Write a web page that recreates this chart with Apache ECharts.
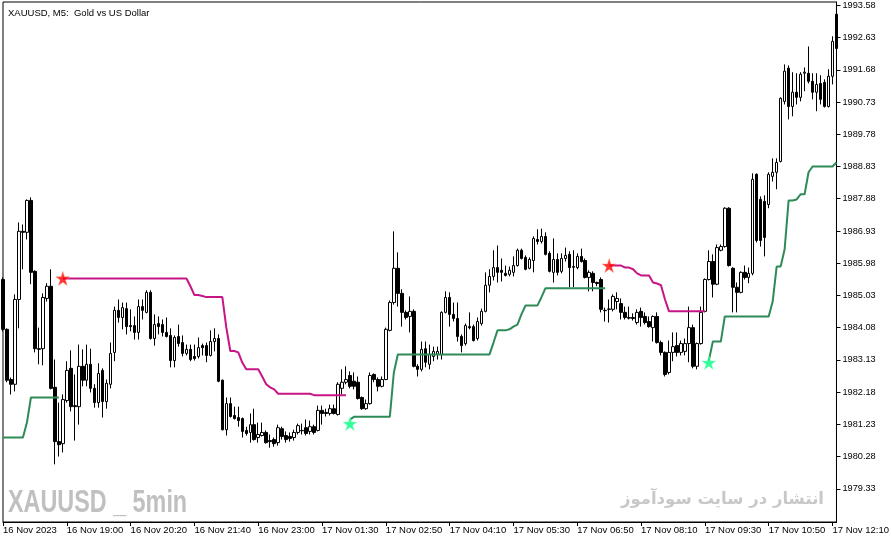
<!DOCTYPE html>
<html><head><meta charset="utf-8">
<script src="https://cdn.jsdelivr.net/npm/echarts@6/dist/echarts.min.js"></script>
<style>html,body{margin:0;padding:0;background:#fff}#c{width:892px;height:543px}</style>
</head><body><div id="c"></div>
<script>
// ---- data ----
const opens = [1985.50,1984.03,1982.55,1982.41,1984.91,1986.92,1986.89,1987.83,1985.74,1983.46,
1983.46,1984.94,1985.30,1982.32,1980.72,1980.66,1981.93,1982.88,1981.78,1981.75,
1982.94,1982.53,1983.00,1982.29,1981.87,1982.82,1981.90,1982.41,1983.35,1984.59,
1984.38,1984.64,1984.14,1984.14,1983.94,1984.70,1984.53,1985.12,1983.76,1984.20,
1984.17,1983.94,1983.85,1983.11,1983.82,1983.64,1983.32,1983.44,1983.23,1983.23,
1983.55,1983.55,1983.26,1983.67,1983.76,1982.53,1981.07,1981.84,1981.49,1981.43,
1981.40,1981.05,1980.99,1981.22,1980.84,1980.90,1980.99,1980.75,1980.78,1980.69,
1981.10,1980.90,1980.87,1980.84,1980.99,1981.05,1981.13,1981.02,1981.16,1981.05,
1981.64,1981.58,1981.55,1981.69,1981.52,1982.29,1982.47,1982.67,1982.50,1982.47,
1982.02,1981.69,1981.84,1982.70,1982.55,1982.35,1982.55,1984.00,1984.82,1985.83,
1985.09,1984.53,1984.41,1984.56,1982.94,1982.85,1983.46,1983.00,1983.23,1983.29,
1983.29,1984.53,1984.97,1984.47,1984.35,1983.82,1983.61,1984.11,1984.11,1983.76,
1984.20,1984.56,1985.33,1985.59,1985.85,1985.77,1985.68,1985.65,1985.71,1985.91,
1986.36,1986.15,1985.83,1986.06,1986.68,1986.62,1986.77,1986.27,1985.71,1986.09,
1985.74,1986.12,1986.24,1985.88,1985.85,1986.18,1986.06,1985.56,1985.68,1985.41,
1985.50,1984.59,1984.62,1984.62,1984.85,1984.79,1984.53,1984.38,1984.38,1984.23,
1984.56,1984.41,1984.26,1984.08,1984.41,1983.64,1983.35,1982.76,1983.35,1983.55,
1983.35,1983.38,1983.61,1984.08,1982.94,1983.61,1984.56,1985.50,1986.03,1985.36,
1986.36,1986.47,1987.60,1985.83,1985.27,1985.12,1985.71,1985.56,1985.68,1988.60,
1987.86,1987.80,1987.71,1988.54,1988.66,1988.98,1990.75,1991.73,1990.60,1991.02,
1990.87,1991.58,1991.58,1991.34,1991.02,1991.28,1991.31,1990.60,1991.49,1993.32];
const closes = [1984.03,1982.53,1982.41,1984.91,1986.92,1986.89,1987.83,1985.71,1983.46,1983.44,
1984.97,1985.30,1982.29,1980.72,1980.63,1981.96,1982.82,1981.75,1981.75,1982.94,
1982.53,1983.00,1982.29,1981.87,1982.73,1981.90,1982.44,1983.32,1984.59,1984.38,
1984.67,1984.11,1984.11,1983.94,1984.70,1984.59,1985.12,1983.76,1984.17,1984.11,
1983.94,1983.82,1983.11,1983.79,1983.61,1983.32,1983.44,1983.14,1983.17,1983.49,
1983.49,1983.26,1983.67,1983.76,1982.50,1981.07,1981.84,1981.46,1981.40,1981.34,
1981.02,1980.96,1981.22,1980.78,1980.93,1980.99,1980.69,1980.72,1980.66,1981.13,
1980.87,1980.78,1980.81,1980.99,1981.19,1981.04,1980.96,1981.16,1980.99,1981.64,
1981.55,1981.55,1981.69,1981.55,1982.41,1982.47,1982.55,1982.35,1982.35,1981.99,
1981.69,1981.84,1982.67,1982.55,1982.35,1982.55,1984.03,1984.82,1985.83,1985.09,
1984.53,1984.38,1984.56,1982.94,1982.85,1983.44,1983.06,1983.29,1983.38,1983.38,
1984.53,1984.97,1984.47,1984.35,1983.82,1983.55,1984.14,1984.08,1983.70,1984.26,
1984.56,1985.33,1985.59,1985.85,1985.71,1985.71,1985.62,1985.77,1985.91,1986.36,
1986.12,1985.80,1986.09,1986.71,1986.62,1986.77,1986.24,1985.74,1986.09,1985.71,
1986.12,1986.21,1985.85,1985.86,1986.18,1986.03,1985.56,1985.71,1985.41,1985.38,
1984.62,1984.58,1984.63,1985.00,1984.94,1984.53,1984.38,1984.36,1984.35,1984.53,
1984.38,1984.23,1984.11,1984.41,1983.64,1983.35,1982.70,1983.35,1983.52,1983.35,
1983.61,1983.61,1984.08,1982.94,1983.61,1984.53,1985.50,1986.03,1985.36,1986.44,
1986.47,1987.60,1985.91,1985.27,1985.12,1985.71,1985.56,1985.68,1988.45,1986.65,
1986.65,1986.74,1988.60,1988.66,1988.95,1990.84,1991.64,1990.60,1991.02,1990.87,
1991.55,1991.61,1991.34,1991.02,1991.25,1990.81,1990.60,1991.49,1992.52,1992.31];
const lows = [1983.97,1982.47,1982.11,1982.20,1984.06,1985.80,1986.68,1985.36,1983.35,1983.00,
1982.97,1984.85,1982.26,1980.05,1980.28,1980.40,1981.87,1981.61,1980.75,1981.22,
1982.35,1982.35,1982.17,1981.72,1981.72,1981.43,1981.69,1982.29,1983.09,1984.23,
1984.03,1983.88,1983.97,1983.73,1983.73,1984.32,1984.50,1983.73,1983.55,1983.88,
1983.82,1983.79,1982.91,1982.91,1983.52,1983.23,1983.26,1983.09,1983.11,1983.17,
1983.26,1983.06,1983.23,1983.38,1982.47,1981.05,1980.90,1981.43,1981.37,1981.16,
1980.84,1980.90,1980.69,1980.75,1980.69,1980.87,1980.66,1980.54,1980.57,1980.60,
1980.78,1980.69,1980.72,1980.75,1980.93,1980.93,1980.90,1980.93,1980.93,1981.02,
1981.22,1981.46,1981.49,1981.52,1981.49,1982.11,1982.41,1982.29,1982.26,1981.96,
1981.66,1981.66,1981.81,1982.47,1982.20,1982.32,1982.53,1983.97,1984.76,1984.70,
1984.11,1984.32,1983.94,1982.91,1982.64,1982.79,1982.91,1982.85,1983.09,1983.14,
1983.14,1984.50,1984.11,1984.26,1983.67,1983.35,1983.55,1984.03,1983.67,1983.70,
1984.14,1984.53,1985.12,1985.47,1985.41,1985.44,1985.59,1985.59,1985.59,1985.88,
1986.09,1985.77,1985.80,1985.71,1986.53,1986.56,1986.21,1985.71,1985.41,1985.62,
1985.68,1986.03,1985.27,1985.27,1985.80,1986.00,1985.53,1985.15,1985.15,1985.30,
1984.53,1984.26,1984.23,1984.56,1984.62,1984.32,1984.32,1984.32,1984.29,1984.17,
1984.11,1984.17,1984.08,1983.67,1983.61,1983.26,1982.64,1982.70,1983.09,1983.23,
1983.26,1983.26,1983.06,1982.88,1982.85,1983.58,1984.53,1985.47,1984.97,1985.33,
1986.33,1986.44,1985.88,1984.53,1984.53,1985.09,1985.50,1985.39,1985.62,1986.59,
1986.47,1986.18,1987.60,1988.39,1988.16,1988.95,1990.66,1990.22,1990.31,1990.66,
1990.75,1991.05,1991.28,1990.81,1990.46,1990.66,1990.57,1990.57,1991.25,1992.28];
const highs = [1985.56,1984.06,1982.61,1985.06,1987.18,1987.12,1987.86,1987.92,1985.77,1984.08,
1985.09,1985.39,1985.80,1983.14,1981.87,1982.11,1983.09,1983.41,1982.70,1983.58,
1983.44,1983.58,1983.46,1982.41,1983.03,1982.88,1982.55,1983.64,1984.70,1984.91,
1984.82,1984.82,1984.62,1984.41,1984.91,1984.91,1985.18,1985.18,1984.47,1984.41,
1984.32,1984.38,1984.06,1983.85,1984.17,1983.85,1983.58,1983.58,1983.58,1983.79,
1983.61,1983.64,1984.00,1984.06,1983.88,1982.55,1982.02,1982.02,1981.75,1981.75,
1981.43,1981.16,1981.55,1981.69,1981.28,1981.28,1981.05,1980.93,1980.84,1981.22,
1981.16,1981.02,1980.99,1981.07,1981.25,1981.25,1981.37,1981.34,1981.22,1981.78,
1981.78,1981.69,1981.81,1981.81,1982.47,1982.85,1982.94,1982.79,1982.76,1982.64,
1982.05,1981.96,1982.76,1982.73,1982.61,1982.64,1984.08,1984.88,1986.92,1986.30,
1985.21,1984.59,1985.00,1984.62,1983.00,1983.67,1983.67,1983.58,1983.52,1983.52,
1984.56,1985.15,1985.12,1984.82,1984.82,1983.88,1984.20,1984.53,1984.17,1984.38,
1984.64,1985.71,1985.80,1986.36,1986.50,1986.12,1985.91,1985.88,1986.18,1986.41,
1986.41,1986.21,1986.15,1986.77,1986.98,1987.00,1986.89,1986.33,1986.71,1986.27,
1986.27,1986.44,1986.33,1986.36,1986.27,1986.41,1986.12,1985.77,1985.74,1985.44,
1985.56,1984.67,1984.91,1985.06,1985.12,1984.94,1984.70,1984.70,1984.50,1984.62,
1984.67,1984.53,1984.41,1984.44,1984.53,1983.70,1983.38,1983.70,1983.94,1983.94,
1983.70,1983.76,1984.70,1984.17,1983.64,1984.70,1985.53,1986.36,1986.24,1986.53,
1986.53,1987.63,1987.63,1985.86,1985.41,1985.74,1985.91,1985.85,1988.63,1988.63,
1987.95,1987.98,1988.66,1989.07,1989.07,1990.87,1991.84,1991.81,1991.61,1991.58,
1991.61,1991.75,1992.37,1991.58,1991.58,1991.52,1991.40,1991.70,1992.67,1993.38];

// trailing line: green (below price) and magenta (above price) segments, with start bar index
const supportSeg1Start = 0;
const supportSeg1 = [1980.84,1980.84,1980.84,1980.84,1980.84,1980.84,1981.28,1982.02,1982.02,1982.02,1982.02,1982.02,1982.02,1982.02,1982.02];
const resistSeg1Start = 15;
const resistSeg1 = [1985.53,1985.53,1985.53,1985.53,1985.53,1985.53,1985.53,1985.53,1985.53,1985.53,
1985.53,1985.53,1985.53,1985.53,1985.53,1985.53,1985.53,1985.53,1985.53,1985.53,
1985.53,1985.53,1985.53,1985.53,1985.53,1985.53,1985.53,1985.53,1985.53,1985.53,
1985.53,1985.53,1985.30,1985.04,1985.04,1985.01,1984.98,1984.98,1984.98,1984.98,
1984.98,1984.08,1983.39,1983.39,1983.35,1983.05,1982.85,1982.85,1982.85,1982.85,
1982.64,1982.41,1982.32,1982.26,1982.13,1982.13,1982.13,1982.13,1982.13,1982.13,
1982.13,1982.13,1982.13,1982.09,1982.09,1982.09,1982.09,1982.09,1982.09,1982.09,1982.09,1982.09];
const supportSeg2Start = 87;
const supportSeg2 = [1981.37,1981.45,1981.45,1981.45,1981.45,1981.45,1981.45,1981.45,1981.45,1981.45,
1981.45,1982.75,1983.29,1983.29,1983.29,1983.29,1983.29,1983.29,1983.29,1983.29,
1983.29,1983.29,1983.29,1983.29,1983.29,1983.29,1983.29,1983.29,1983.29,1983.29,
1983.29,1983.29,1983.29,1983.29,1983.29,1983.29,1983.64,1984.00,1984.00,1984.00,
1984.03,1984.11,1984.17,1984.47,1984.73,1984.73,1984.73,1984.73,1984.97,1985.24,
1985.24,1985.24,1985.24,1985.24,1985.24,1985.24,1985.24,1985.24,1985.24,1985.24,
1985.24,1985.24,1985.24,1985.24,1985.24];
const resistSeg2Start = 152;
const resistSeg2 = [1985.91,1985.91,1985.91,1985.91,1985.85,1985.85,1985.80,1985.68,1985.62,1985.62,
1985.62,1985.41,1985.38,1985.33,1984.91,1984.56,1984.56,1984.56,1984.56,1984.56,
1984.56,1984.56,1984.56,1984.56,1984.56];
const supportSeg3Start = 177;
const supportSeg3 = [1983.11,1983.67,1983.67,1983.67,1984.41,1984.41,1984.41,1984.41,1984.41,1984.41,
1984.41,1984.41,1984.41,1984.41,1984.41,1984.41,1984.85,1985.88,1985.88,1986.39,
1987.83,1987.83,1987.86,1988.01,1988.01,1988.66,1988.83,1988.83,1988.83,1988.83,
1988.83,1988.83,1988.95];

// signal stars [bar index, price]
const sellSignals = [[15, 1985.53], [152, 1985.91]];
const buySignals = [[87, 1981.25], [177, 1983.05]];

const yTickValues = [1979.33,1980.28,1981.23,1982.18,1983.13,1984.08,1985.03,1985.98,1986.93,1987.88,1988.83,1989.78,1990.73,1991.68,1992.63,1993.58];
const xTickLabels = ['16 Nov 2023','16 Nov 19:00','16 Nov 20:20','16 Nov 21:40','16 Nov 23:00','17 Nov 01:30','17 Nov 02:50','17 Nov 04:10','17 Nov 05:30','17 Nov 06:50','17 Nov 08:10','17 Nov 09:30','17 Nov 10:50','17 Nov 12:10'];
const labelEvery = 16;

// ---- build ----
const pad = n => (n < 10 ? '0' : '') + n;
const categories = opens.map((_, i) => {
  let day, mins;
  if (i < 76) { day = 16; mins = 17 * 60 + 40 + 5 * i; } else { day = 17; mins = 70 + 5 * (i - 76); }
  return day + ' Nov ' + pad(Math.floor(mins / 60)) + ':' + pad(mins % 60);
});
const candleData = opens.map((o, i) => [o, closes[i], lows[i], highs[i]]);
function fullSeries(segs) {
  const arr = opens.map(() => null);
  segs.forEach(([start, vals]) => vals.forEach((v, k) => { arr[start + k] = v; }));
  return arr;
}
const supportLine = fullSeries([[supportSeg1Start, supportSeg1], [supportSeg2Start, supportSeg2], [supportSeg3Start, supportSeg3]]);
const resistLine = fullSeries([[resistSeg1Start, resistSeg1], [resistSeg2Start, resistSeg2]]);

const STAR = 'path://M50,0 L61.8,35.4 L99,35.4 L69,57.3 L80.4,92.7 L50,70.8 L19.6,92.7 L31,57.3 L1,35.4 L38.2,35.4 Z';
const FONT = 'Liberation Sans, Arial, sans-serif';

const chart = echarts.init(document.getElementById('c'), null, { renderer: 'canvas' });
chart.setOption({
  animation: false,
  backgroundColor: '#ffffff',
  title: {
    text: 'XAUUSD, M5:  Gold vs US Dollar', left: 3, top: 3,
    textStyle: { fontSize: 9.5, fontWeight: 'normal', fontFamily: FONT, color: '#000' }
  },
  grid: { left: 2, right: 53, top: 2, bottom: 21, show: true, borderColor: '#000', borderWidth: 1, backgroundColor: 'transparent' },
  xAxis: {
    type: 'category', data: categories, boundaryGap: false,
    axisLine: { show: true, lineStyle: { color: '#000', width: 1 } },
    axisTick: { show: true, length: 4, interval: (i) => i % labelEvery === 0, lineStyle: { color: '#000' } },
    axisLabel: {
      interval: (i) => i % labelEvery === 0,
      formatter: (v, i) => xTickLabels[Math.round(i / labelEvery)] || '',
      align: 'left', margin: 3, color: '#000', fontSize: 9.5, fontFamily: FONT
    },
    splitLine: { show: false }
  },
  yAxis: {
    type: 'value', position: 'right', min: 1978.35, max: 1993.68, scale: true,
    axisLine: { show: true, lineStyle: { color: '#000', width: 1 } },
    axisTick: { show: true, length: 4, customValues: yTickValues, lineStyle: { color: '#000' } },
    axisLabel: { customValues: yTickValues, formatter: v => v.toFixed(2), margin: 6, color: '#000', fontSize: 9.2, fontFamily: FONT },
    splitLine: { show: false }
  },
  graphic: [
    { type: 'text', x: 8, y: 487, scaleX: 0.73, z: 0, silent: true,
      style: { text: 'XAUUSD _ 5min', font: 'bold 32px Liberation Sans, Arial, sans-serif', fill: '#c0c0c0', textBaseline: 'top' } },
    { type: 'text', x: 824, y: 491, z: 0, silent: true,
      style: { text: 'انتشار در سایت سودآموز', font: 'bold 16.5px DejaVu Sans, sans-serif', fill: '#c8c8c8', textAlign: 'right', textBaseline: 'top' } }
  ],
  series: [
    { type: 'candlestick', data: candleData, barWidth: 3, z: 2,
      itemStyle: { color: '#ffffff', color0: '#000000', borderColor: '#000000', borderColor0: '#000000', borderWidth: 1 } },
    { type: 'line', data: supportLine, symbol: 'none', z: 3, connectNulls: false,
      lineStyle: { color: '#2e8b57', width: 2 } },
    { type: 'line', data: resistLine, symbol: 'none', z: 3, connectNulls: false,
      lineStyle: { color: '#c71585', width: 2 } },
    { type: 'scatter', data: sellSignals, symbol: STAR, symbolSize: 14, z: 4,
      itemStyle: { color: '#ff0000', borderColor: '#ff9a80', borderWidth: 0.6 } },
    { type: 'scatter', data: buySignals, symbol: STAR, symbolSize: 14, z: 4,
      itemStyle: { color: '#00ff7f', borderColor: '#9affc8', borderWidth: 0.6 } }
  ]
});
</script>
</body></html>
